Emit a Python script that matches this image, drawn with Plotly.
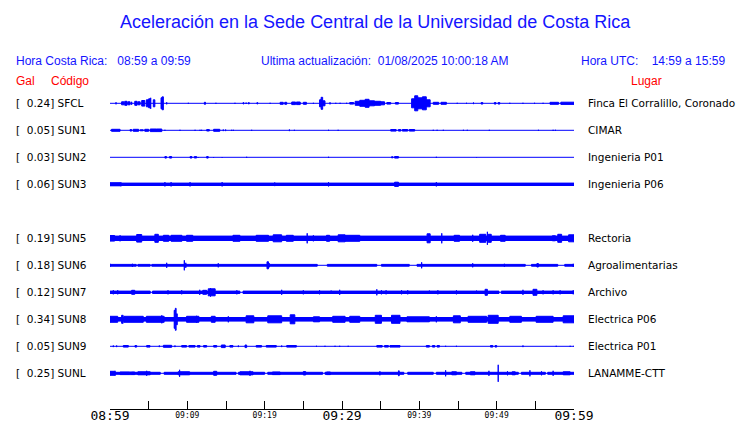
import plotly.graph_objects as go

TITLE = "Aceleración en la Sede Central de la Universidad de Costa Rica"
HORA_CR = "08:59 a 09:59"
ULTIMA = "01/08/2025 10:00:18 AM"
HORA_UTC = "14:59 a 15:59"

STATIONS = ["SFCL", "SUN1", "SUN2", "SUN3", "SUN5", "SUN6", "SUN7", "SUN8", "SUN9", "SUNL"]
GAL = [0.24, 0.05, 0.03, 0.06, 0.19, 0.18, 0.12, 0.34, 0.05, 0.25]
PLACES = ["Finca El Corralillo, Coronado", "CIMAR", "Ingenieria P01", "Ingenieria P06",
          "Rectoria", "Agroalimentarias", "Archivo", "Electrica P06", "Electrica P01", "LANAMME-CTT"]
ROWS = [0, 1, 2, 3, 5, 6, 7, 8, 9, 10]          # SUN4 slot is empty
# background half-amplitude of each record (display units)
BASE_AMP = [0.5, 0.5, 0.5, 1.7, 2.7, 1.4, 1.7, 2.3, 0.5, 1.5]

# bursts: (minute start, minute end, half-amplitude)
EV_SFCL = [(0.78, 0.78, 1.5), (1.5, 1.8, 2.0), (1.9, 2.2, 2.5), (2.3, 2.6, 2.0), (2.8, 2.8, 2.0),
           (3.2, 3.5, 2.5), (3.6, 3.9, 2.0), (4.1, 4.5, 3.3), (4.7, 5.0, 4.0), (5.0, 5.2, 5.0),
           (5.26, 5.26, 6.0), (5.6, 5.8, 4.0), (6.6, 6.75, 6.0), (6.75, 6.9, 7.0), (7.33, 7.33, 1.5),
           (10.13, 10.13, 1.0), (12.2, 12.35, 1.5), (13.7, 13.7, 1.0), (16.16, 16.16, 1.0),
           (17.2, 17.3, 1.2), (17.6, 17.6, 1.2), (17.9, 18.0, 1.2), (19.0, 19.1, 1.2), (20.7, 20.7, 1.0),
           (22.0, 22.4, 1.5), (22.6, 22.85, 1.5), (23.5, 24.0, 1.8), (24.1, 24.6, 1.8), (25.0, 25.4, 1.5),
           (26.3, 26.3, 1.0), (27.1, 27.3, 4.0), (27.3, 27.5, 6.5), (27.5, 27.8, 3.0), (28.45, 28.45, 1.5),
           (29.2, 29.2, 1.0), (29.75, 29.75, 1.0), (30.6, 30.6, 1.0), (31.0, 31.5, 1.3),
           (31.7, 32.3, 2.5), (32.3, 33.0, 3.5), (33.0, 33.5, 4.5), (33.5, 34.2, 3.0), (34.2, 35.0, 2.5),
           (35.0, 35.5, 2.0), (35.8, 36.3, 1.3), (36.9, 37.3, 1.3), (39.0, 39.4, 5.0), (39.4, 39.8, 8.0),
           (39.8, 40.4, 6.0), (40.4, 40.9, 7.0), (40.9, 41.4, 4.0), (41.8, 42.5, 1.5), (42.8, 43.5, 1.5),
           (44.9, 44.9, 1.0), (46.1, 46.1, 1.0), (47.0, 47.0, 1.3), (48.0, 48.2, 1.3), (49.7, 49.9, 1.3),
           (50.2, 50.4, 1.3), (51.7, 51.7, 1.0), (53.4, 53.4, 1.0), (54.9, 54.9, 1.0), (56.0, 56.0, 1.0),
           (56.9, 58.0, 1.5), (58.3, 60.0, 1.6)]
EV_SUN1 = [(0.2, 1.3, 1.5), (2.6, 2.8, 1.3), (3.0, 3.7, 1.5), (3.9, 4.3, 1.0), (4.5, 5.0, 1.5),
           (5.2, 6.0, 1.8), (6.0, 6.7, 1.8), (7.1, 7.1, 1.0), (9.05, 9.05, 1.0), (11.0, 11.0, 1.0),
           (11.64, 11.64, 1.0), (11.85, 11.85, 1.0), (12.5, 12.85, 1.2), (13.4, 14.2, 1.5),
           (14.65, 14.65, 1.3), (14.95, 14.95, 1.3), (15.73, 15.73, 1.0), (15.95, 15.95, 1.0),
           (18.32, 18.32, 1.0), (23.2, 23.2, 1.3), (23.84, 23.84, 1.0), (28.26, 28.26, 1.0),
           (29.5, 29.5, 1.0), (36.3, 37.0, 1.3), (37.3, 37.6, 1.3), (37.8, 38.5, 1.3), (38.7, 39.4, 1.3),
           (41.8, 41.8, 1.0), (42.3, 42.3, 1.0), (43.1, 43.1, 1.0), (45.7, 45.7, 1.0), (46.2, 46.2, 1.0),
           (49.05, 49.05, 1.0), (55.4, 55.4, 1.0), (57.3, 57.3, 1.0), (57.6, 57.6, 1.0)]
EV_SUN2 = [(7.1, 7.3, 1.3), (7.7, 7.97, 1.3), (10.35, 10.6, 1.2), (10.9, 11.2, 1.2), (11.4, 11.4, 0.8),
           (12.5, 12.7, 1.3), (13.4, 13.4, 0.8), (14.5, 14.5, 0.8), (17.67, 17.67, 1.0),
           (28.26, 28.26, 1.0), (36.4, 36.6, 1.0), (36.8, 37.3, 1.3), (42.2, 42.2, 1.0), (47.4, 47.4, 0.7)]
EV_SUN3 = [(0.0, 1.3, 2.0), (1.4, 1.4, 2.6), (7.1, 7.1, 2.6), (7.9, 7.9, 2.6), (10.35, 10.35, 2.6),
           (14.5, 14.5, 2.6), (21.3, 21.3, 2.3), (28.26, 28.26, 2.6), (36.8, 37.3, 2.6), (42.2, 42.2, 2.6)]
EV_SUN5 = [(0.0, 0.6, 3.3), (1.3, 1.3, 3.5), (3.45, 4.1, 4.3), (5.8, 6.25, 4.5), (6.9, 7.6, 3.5),
           (7.9, 9.3, 3.5), (9.9, 10.7, 3.5), (15.9, 16.8, 3.5), (18.9, 20.5, 3.5), (21.1, 22.2, 4.0),
           (22.8, 23.7, 3.5), (25.5, 25.5, 5.5), (26.3, 26.3, 3.5), (28.0, 28.4, 3.5), (29.5, 30.4, 4.0),
           (30.4, 32.3, 3.5), (41.0, 41.4, 5.0), (42.9, 42.9, 5.5), (44.5, 45.2, 3.5), (46.9, 46.9, 4.0),
           (47.8, 48.6, 4.5), (48.8, 48.8, 7.0), (48.9, 49.3, 4.5), (50.5, 51.1, 3.5), (57.2, 57.6, 3.0),
           (57.9, 58.4, 4.5), (59.3, 60.0, 4.0)]
EV_SUN6 = [(0.0, 0.0, 2.0), (2.9, 2.9, 2.0), (7.33, 7.33, 3.0), (9.61, 9.61, 5.5), (9.8, 9.8, 3.0),
           (14.0, 14.0, 2.5), (20.3, 20.5, 4.0), (20.6, 20.6, 2.5), (40.3, 40.3, 3.5), (46.9, 46.9, 2.5),
           (51.0, 51.0, 2.0), (55.2, 55.4, 2.2), (59.9, 59.9, 2.0)]
EV_SUN7 = [(0.43, 0.43, 2.5), (1.0, 1.0, 2.5), (2.8, 3.2, 2.5), (7.5, 7.5, 2.5), (9.27, 9.27, 2.5),
           (11.6, 11.6, 3.0), (12.0, 12.5, 2.5), (12.7, 13.6, 4.0), (13.0, 13.0, 4.8), (16.4, 16.4, 2.5),
           (22.2, 22.2, 3.0), (25.0, 25.0, 2.5), (27.1, 27.1, 2.5), (28.6, 28.6, 2.2), (29.7, 29.7, 3.0),
           (34.5, 34.5, 3.5), (35.1, 35.1, 2.5), (35.7, 35.7, 2.5), (37.7, 37.7, 2.5), (38.5, 38.5, 2.5),
           (41.3, 41.3, 2.2), (42.4, 42.4, 2.5), (44.8, 44.8, 2.5), (47.4, 47.4, 2.2), (48.5, 48.8, 3.5),
           (53.4, 53.4, 3.0), (54.7, 55.2, 3.5), (56.0, 56.0, 2.5), (57.3, 57.3, 2.5), (58.2, 58.2, 2.5),
           (59.9, 59.9, 2.5)]
EV_SUN8 = [(0.0, 1.0, 3.5), (1.5, 1.7, 4.5), (1.8, 4.3, 3.5), (4.7, 7.0, 3.5), (6.7, 6.7, 4.5),
           (8.3, 8.4, 9.5), (8.45, 8.55, 11.5), (8.6, 8.7, 6.0), (9.9, 11.5, 3.5), (11.2, 11.2, 4.0),
           (13.1, 13.6, 3.5), (15.3, 15.3, 3.5), (17.6, 18.6, 4.0), (20.4, 22.2, 4.0), (23.3, 23.9, 5.0),
           (26.3, 27.1, 3.0), (28.8, 30.4, 3.5), (31.0, 32.3, 3.5), (34.3, 35.1, 4.5), (36.4, 37.5, 4.5),
           (38.4, 41.3, 3.0), (42.2, 42.2, 3.5), (44.4, 45.3, 4.0), (46.3, 48.7, 3.5), (48.9, 50.2, 4.5),
           (51.7, 53.2, 3.5), (55.1, 57.3, 3.5), (58.6, 60.0, 4.0)]
EV_SUN9 = [(0.43, 0.43, 1.3), (0.86, 0.86, 1.3), (1.72, 2.37, 1.3), (3.23, 3.45, 1.3), (4.74, 5.17, 1.3),
           (6.38, 6.38, 1.3), (6.9, 7.97, 1.5), (8.4, 8.4, 1.3), (9.27, 9.9, 1.3), (10.2, 11.0, 1.3),
           (11.3, 11.64, 1.3), (12.1, 12.5, 1.3), (13.4, 13.8, 1.3), (14.4, 14.9, 1.8), (15.5, 15.9, 1.3),
           (16.6, 16.6, 1.3), (17.46, 17.67, 1.8), (18.9, 19.6, 1.3), (20.2, 21.5, 1.3), (22.2, 22.2, 1.3),
           (22.85, 24.1, 1.3), (26.7, 26.7, 1.0), (27.8, 27.8, 1.0), (29.1, 29.1, 1.0), (29.7, 29.7, 1.0),
           (30.8, 30.8, 1.0), (34.5, 35.2, 1.3), (35.5, 36.0, 1.3), (36.2, 37.5, 1.3), (40.9, 41.3, 1.3),
           (41.7, 42.0, 1.3), (42.3, 42.6, 1.3), (43.4, 43.4, 1.0), (44.8, 44.8, 1.0), (49.2, 49.5, 1.3),
           (49.8, 50.0, 1.3), (53.4, 53.4, 1.3), (57.7, 57.7, 1.0), (59.5, 59.5, 1.0), (60.0, 60.0, 1.0)]
EV_SUNL = [(0.0, 0.6, 2.5), (0.65, 0.65, 3.0), (1.3, 3.2, 1.8), (3.6, 5.2, 2.0), (4.74, 4.74, 3.0),
           (8.8, 10.3, 2.0), (9.0, 9.0, 4.0), (13.4, 13.8, 2.5), (16.8, 18.5, 2.0), (18.1, 18.1, 3.0),
           (21.0, 22.0, 1.8), (25.0, 25.3, 2.2), (28.0, 28.5, 1.8), (34.9, 34.9, 2.5), (37.3, 37.4, 3.0),
           (43.4, 43.4, 3.5), (44.2, 44.8, 2.0), (46.6, 47.2, 2.0), (49.0, 49.0, 3.0), (50.2, 50.2, 9.0),
           (51.4, 51.4, 2.5), (52.0, 52.4, 2.0), (54.3, 54.3, 3.5), (55.8, 55.8, 2.5), (57.3, 57.3, 3.0),
           (58.6, 59.5, 2.0)]
EVENTS = [EV_SFCL, EV_SUN1, EV_SUN2, EV_SUN3, EV_SUN5, EV_SUN6, EV_SUN7, EV_SUN8, EV_SUN9, EV_SUNL]

# quiet stretches where the background band thins to a single line (minutes)
QUIET_SUN6 = [(3.4, 3.6), (5.2, 5.4), (26.8, 28.1), (34.5, 35.1), (38.7, 39.7), (53.7, 54.5), (57.9, 58.8)]
QUIET_SUN7 = [(5.2, 5.5), (16.8, 17.2), (50.3, 50.6)]
QUIET_SUNL = [(2.5, 2.8), (6.5, 7.0), (16.3, 16.6), (20.0, 20.4), (27.5, 27.8), (38.0, 38.5),
              (41.8, 42.2), (45.5, 46.0), (52.8, 53.2), (56.3, 56.6)]
QUIET = {"SUN6": QUIET_SUN6, "SUN7": QUIET_SUN7, "SUNL": QUIET_SUNL}

T_START, T_END = 0, 60
TICK_MIN = [0, 5, 10, 15, 20, 25, 30, 35, 40, 45, 50, 55, 60]
BIG_TICKS = [0, 30, 60]
BIG_LABELS = ["08:59", "09:29", "09:59"]
SMALL_TICKS = [10, 20, 40, 50]
SMALL_LABELS = ["09:09", "09:19", "09:39", "09:49"]

# ---------------- layout constants (pixels) ----------------
W, H = 740, 423
ML, MR, MT, MB = 110, 166, 88, 14
ROW_PX = 27.0
FIRST_ROW_PX = 103.3
BLUE = "#0000ff"
RED = "#ff0000"
HDR_BLUE = "#1414ff"

plot_h = H - MT - MB
y_top = FIRST_ROW_PX - MT
y_bot = -(H - MB - FIRST_ROW_PX)


def row_center(r):
    return -r * ROW_PX


def px_x(px):
    return (px - ML) / (W - ML - MR)


def px_y(py):
    return (H - MB - py) / plot_h


def rect_path(segs, c):
    xs, ys = [], []
    for t0, t1, a in segs:
        a = max(a - 0.5, 0.0)
        xs += [t0, t1, t1, t0, t0, None]
        ys += [c - a, c - a, c + a, c + a, c - a, None]
    return xs, ys


fig = go.Figure()

for name, r, base, ev in zip(STATIONS, ROWS, BASE_AMP, EVENTS):
    c = row_center(r)
    # thin carrier line
    fig.add_trace(go.Scatter(x=[T_START, T_END], y=[c, c], mode="lines",
                             line=dict(color=BLUE, width=1), hoverinfo="skip", showlegend=False))
    segs = []
    if base > 0.6:
        quiet = QUIET.get(name, [])
        t = T_START
        for q0, q1 in quiet:
            segs.append((t, q0, base))
            t = q1
        segs.append((t, T_END, base))
    segs += ev
    xs, ys = rect_path(segs, c)
    fig.add_trace(go.Scatter(x=xs, y=ys, mode="lines", fill="toself", fillcolor=BLUE,
                             line=dict(color=BLUE, width=1), hoverinfo="skip", showlegend=False))

# empty trace to carry the second (small-label) time axis
fig.add_trace(go.Scatter(x=[T_START, T_END], y=[None, None], xaxis="x2", showlegend=False,
                         hoverinfo="skip"))

ann = []
ann.append(dict(text=TITLE, x=px_x(375), y=px_y(22), xanchor="center", yanchor="middle",
                font=dict(family="Liberation Sans, Arial", size=18, color=HDR_BLUE)))
hdr_font = dict(family="Liberation Sans, Arial", size=12, color=HDR_BLUE)
nb = "\u00a0"
ann.append(dict(text="Hora Costa Rica:" + nb * 3 + HORA_CR, x=px_x(14), y=px_y(61),
                xanchor="left", yanchor="middle", font=hdr_font))
ann.append(dict(text="Ultima actualización:" + nb * 2 + ULTIMA, x=px_x(258.5), y=px_y(61),
                xanchor="left", yanchor="middle", font=hdr_font))
ann.append(dict(text="Hora UTC:" + nb * 4 + HORA_UTC, x=px_x(578.5), y=px_y(61),
                xanchor="left", yanchor="middle", font=hdr_font))
red_font = dict(family="Liberation Sans, Arial", size=12, color=RED)
ann.append(dict(text="Gal", x=px_x(14), y=px_y(81), xanchor="left", yanchor="middle", font=red_font))
ann.append(dict(text="Código", x=px_x(49), y=px_y(81), xanchor="left", yanchor="middle", font=red_font))
ann.append(dict(text="Lugar", x=px_x(629), y=px_y(81), xanchor="left", yanchor="middle", font=red_font))

lab_font = dict(family="DejaVu Sans", size=10.5, color="black")
for name, r, g, place in zip(STATIONS, ROWS, GAL, PLACES):
    c = row_center(r)
    ann.append(dict(text="[" + nb * 2 + f"{g:.2f}] {name}", xref="paper", yref="y",
                    x=px_x(14), y=c, xanchor="left", yanchor="middle", font=lab_font))
    ann.append(dict(text=place, xref="paper", yref="y", x=px_x(586), y=c,
                    xanchor="left", yanchor="middle", font=lab_font))

for a in ann:
    a.setdefault("xref", "paper")
    a.setdefault("yref", "paper")
    a["showarrow"] = False

fig.update_layout(
    width=W, height=H,
    margin=dict(l=ML, r=MR, t=MT, b=MB, autoexpand=False),
    paper_bgcolor="white", plot_bgcolor="white",
    showlegend=False,
    annotations=ann,
    xaxis=dict(range=[T_START, T_END], showgrid=False, zeroline=False,
               showline=True, linecolor="black", linewidth=1,
               ticks="inside", ticklen=8, tickwidth=1, tickcolor="black",
               tickvals=TICK_MIN,
               ticktext=[BIG_LABELS[BIG_TICKS.index(t)] if t in BIG_TICKS else "" for t in TICK_MIN],
               tickfont=dict(family="DejaVu Sans Mono", size=13, color="black"),
               ticklabelstandoff=-6,
               automargin=False, fixedrange=True),
    xaxis2=dict(range=[T_START, T_END], overlaying="x", anchor="y", side="bottom",
                showgrid=False, zeroline=False, showline=False, ticks="",
                tickvals=SMALL_TICKS, ticktext=SMALL_LABELS,
                tickfont=dict(family="DejaVu Sans Mono", size=8, color="black"),
                automargin=False, fixedrange=True),
    yaxis=dict(range=[y_bot, y_top], visible=False, showgrid=False, zeroline=False,
               fixedrange=True),
)

fig.write_html("out.html", config={"displayModeBar": False},
               post_script="document.body.style.margin='0px';document.body.style.padding='0px';")
